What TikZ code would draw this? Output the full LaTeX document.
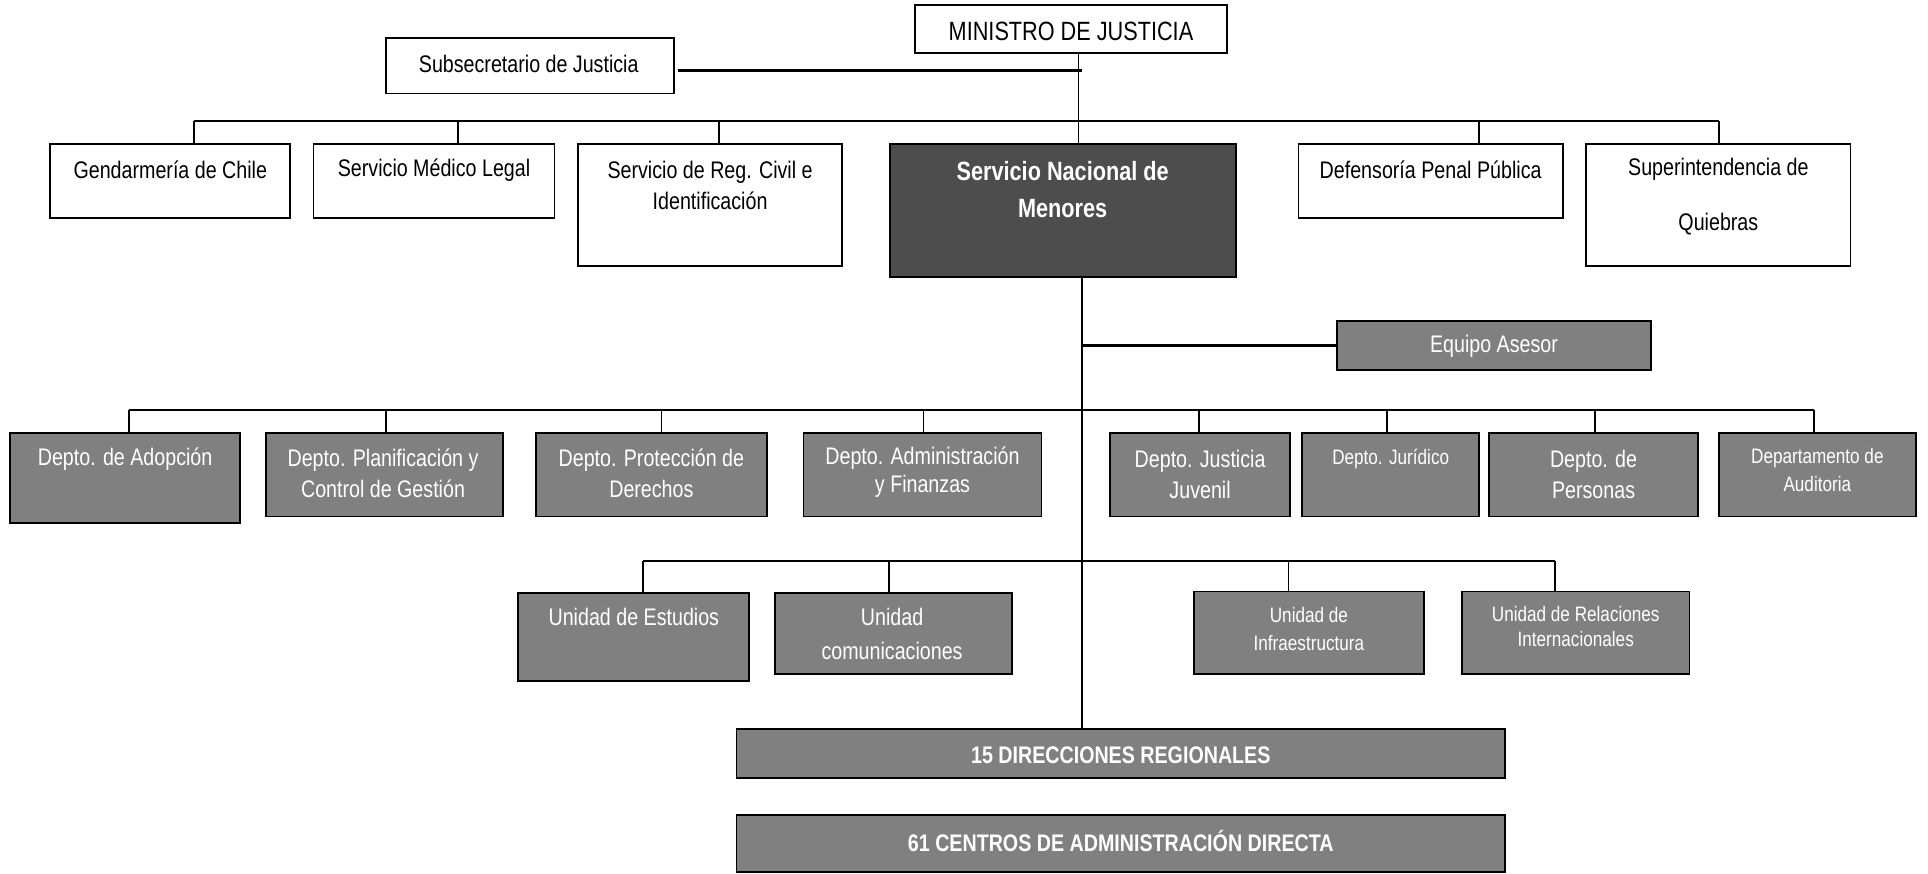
\documentclass[tikz,border=0pt]{standalone}
\usepackage{fontspec}
\setmainfont{Liberation Sans}[FakeStretch=0.82]
\usetikzlibrary{calc}

\definecolor{unitgray}{HTML}{808080}
\definecolor{senamegray}{HTML}{4D4D4D}

\tikzset{
  orgline/.style={line width=1.4pt},
  busline/.style={line width=1.9pt},
  boldline/.style={line width=2.5pt},
  whitebox/.style={draw, line width=1.5pt, fill=white, inner sep=0pt, outer sep=0pt},
  graybox/.style={whitebox, fill=unitgray},
  darkbox/.style={whitebox, fill=senamegray},
  boxtext/.style={inner sep=0pt, align=center, font=\fontsize{19.5}{25}\selectfont},
  whitetext/.style={boxtext, text=white},
  smalltext/.style={whitetext, font=\fontsize{17}{23}\selectfont},
  headtext/.style={whitetext, font=\bfseries\fontsize{19.5}{25}\selectfont},
}

\begin{document}
\begin{tikzpicture}[x=1pt,y=1pt,yscale=-1,xscale=1]
\useasboundingbox (0,0) rectangle (1568,710);

%Shape: Rectangle
\node[whitebox, minimum width=254pt, minimum height=39pt] (ministro) at (871,23.5) {};
\node[boxtext, font=\fontsize{21.5}{26}\selectfont] (ministro-t) at (871,25.5) {MINISTRO DE JUSTICIA};
%Shape: Rectangle
\node[whitebox, minimum width=234pt, minimum height=45pt] (subsec) at (431,53.5) {};
\node[boxtext] (subsec-t) at (430,52) {Subsecretario de Justicia};

%Shape: Rectangle
\node[whitebox, minimum width=195pt, minimum height=60pt] (gendarmeria) at (138.5,147) {};
\node[boxtext] (gendarmeria-t) at (138.5,138) {Gendarmería de Chile};
%Shape: Rectangle
\node[whitebox, minimum width=196pt, minimum height=60pt] (medico) at (353,147) {};
\node[boxtext] (medico-t) at (353,138) {Servicio Médico Legal};
%Shape: Rectangle
\node[whitebox, minimum width=215pt, minimum height=99pt] (regcivil) at (577.5,166.5) {};
\node[boxtext] (regcivil-t) at (577.5,150.5) {Servicio de Reg. Civil e\\Identificación};
%Shape: Rectangle
\node[darkbox, minimum width=281.5pt, minimum height=108pt] (sename) at (864.25,171) {};
\node[whitetext, font=\bfseries\fontsize{21.5}{30}\selectfont] (sename-t) at (864.25,154) {Servicio Nacional de\\Menores};
%Shape: Rectangle
\node[whitebox, minimum width=215pt, minimum height=60pt] (defensoria) at (1163.5,147) {};
\node[boxtext] (defensoria-t) at (1163.5,138) {Defensoría Penal Pública};
%Shape: Rectangle
\node[whitebox, minimum width=215pt, minimum height=99pt] (superint) at (1397.5,166.5) {};
\node[boxtext] (superint-t) at (1397.5,160) {Superintendencia de\\[20pt]Quiebras};

%Shape: Rectangle
\node[graybox, minimum width=256pt, minimum height=40pt] (asesor) at (1215,281) {};
\node[whitetext] (asesor-t) at (1215,282) {Equipo Asesor};

%Shape: Rectangle
\node[graybox, minimum width=187.5pt, minimum height=73pt] (adopcion) at (101.75,388.5) {};
\node[whitetext] (adopcion-t) at (101.75,373.5) {Depto. de Adopción};
%Shape: Rectangle
\node[graybox, minimum width=193pt, minimum height=68pt] (planif) at (312.5,386) {};
\node[whitetext] (planif-t) at (311.5,385) {Depto. Planificación y\\Control de Gestión};
%Shape: Rectangle
\node[graybox, minimum width=187.5pt, minimum height=68pt] (proteccion) at (529.75,386) {};
\node[whitetext] (proteccion-t) at (529.75,385) {Depto. Protección de\\Derechos};
%Shape: Rectangle
\node[graybox, minimum width=193.5pt, minimum height=68pt] (admin) at (750.25,386) {};
\node[whitetext, font=\fontsize{19.5}{23}\selectfont] (admin-t) at (750.25,384) {Depto. Administración\\y Finanzas};
%Shape: Rectangle
\node[graybox, minimum width=146pt, minimum height=68pt] (juvenil) at (976,386) {};
\node[whitetext] (juvenil-t) at (976,386) {Depto. Justicia\\Juvenil};
%Shape: Rectangle
\node[graybox, minimum width=144pt, minimum height=68pt] (juridico) at (1131,386) {};
\node[smalltext] (juridico-t) at (1131,373) {Depto. Jurídico};
%Shape: Rectangle
\node[graybox, minimum width=170pt, minimum height=68pt] (personas) at (1296,386) {};
\node[whitetext] (personas-t) at (1296,386) {Depto. de\\Personas};
%Shape: Rectangle
\node[graybox, minimum width=160pt, minimum height=68pt] (auditoria) at (1478,386) {};
\node[smalltext] (auditoria-t) at (1478,382) {Departamento de\\Auditoria};

%Shape: Rectangle
\node[graybox, minimum width=188pt, minimum height=72pt] (estudios) at (515,518) {};
\node[whitetext] (estudios-t) at (515.5,502) {Unidad de Estudios};
%Shape: Rectangle
\node[graybox, minimum width=193pt, minimum height=66pt] (comunic) at (726.5,515) {};
\node[whitetext, font=\fontsize{19.5}{27}\selectfont] (comunic-t) at (725.5,515.5) {Unidad\\comunicaciones};
%Shape: Rectangle
\node[graybox, minimum width=187pt, minimum height=67pt] (infra) at (1064.5,514.5) {};
\node[smalltext] (infra-t) at (1064.5,511.5) {Unidad de\\Infraestructura};
%Shape: Rectangle
\node[graybox, minimum width=185pt, minimum height=67pt] (relaciones) at (1281.5,514.5) {};
\node[smalltext, font=\fontsize{17}{21}\selectfont] (relaciones-t) at (1281.5,509.5) {Unidad de Relaciones\\Internacionales};

%Shape: Rectangle
\node[graybox, minimum width=625pt, minimum height=40pt] (direcciones) at (911.5,613) {};
\node[headtext] (direcciones-t) at (911.5,614) {15 DIRECCIONES REGIONALES};
%Shape: Rectangle
\node[graybox, minimum width=625pt, minimum height=46pt] (centros) at (911.5,686) {};
\node[headtext] (centros-t) at (911.5,684) {61 CENTROS DE ADMINISTRACIÓN DIRECTA};

% junctions of the lines
\coordinate (subsecjoin) at (880,57.5);
\coordinate (topspine) at (877,98.5);
\coordinate (topbusL) at (158,98.5);
\coordinate (topbusR) at (1398,98.5);
\coordinate (medico-up) at (372.5,98.5);
\coordinate (regcivil-up) at (585,98.5);
\coordinate (defensoria-up) at (1203,98.5);
\coordinate (spine) at (880,333.5);
\coordinate (deptbusL) at (105,333.5);
\coordinate (deptbusR) at (1475,333.5);
\coordinate (planif-up) at (314,333.5);
\coordinate (proteccion-up) at (538,333.5);
\coordinate (admin-up) at (751,333.5);
\coordinate (juvenil-up) at (975,333.5);
\coordinate (juridico-up) at (1128,333.5);
\coordinate (personas-up) at (1297,333.5);
\coordinate (unitbusL) at (523,456);
\coordinate (unitbusR) at (1264.5,456);
\coordinate (comunic-up) at (723,456);
\coordinate (infra-up) at (1048,456);

%Straight Lines
\draw[boldline] ([xshift=3pt]subsec.east |- subsecjoin) -- (subsecjoin);
%Straight Lines
\draw[orgline] (ministro.south -| topspine) -- (sename.north -| topspine);
%Straight Lines
\draw[busline] (topbusL) -- (topbusR);
\draw[orgline] (topbusL) -- (gendarmeria.north -| topbusL);
\draw[orgline] (medico-up) -- (medico.north -| medico-up);
\draw[orgline] (regcivil-up) -- (regcivil.north -| regcivil-up);
\draw[orgline] (defensoria-up) -- (defensoria.north -| defensoria-up);
\draw[orgline] (topbusR) -- (superint.north -| topbusR);

%Straight Lines
\draw[orgline] (sename.south -| spine) -- (direcciones.north -| spine);
\draw[boldline] (asesor.west -| spine) -- (asesor.west);

%Straight Lines
\draw[busline] (deptbusL) -- (deptbusR);
\draw[orgline] (deptbusL) -- (adopcion.north -| deptbusL);
\draw[orgline] (planif-up) -- (planif.north -| planif-up);
\draw[orgline] (proteccion-up) -- (proteccion.north -| proteccion-up);
\draw[orgline] (admin-up) -- (admin.north -| admin-up);
\draw[orgline] (juvenil-up) -- (juvenil.north -| juvenil-up);
\draw[orgline] (juridico-up) -- (juridico.north -| juridico-up);
\draw[orgline] (personas-up) -- (personas.north -| personas-up);
\draw[orgline] (deptbusR) -- (auditoria.north -| deptbusR);

%Straight Lines
\draw[busline] (unitbusL) -- (unitbusR);
\draw[orgline] (unitbusL) -- (estudios.north -| unitbusL);
\draw[orgline] (comunic-up) -- (comunic.north -| comunic-up);
\draw[orgline] (infra-up) -- (infra.north -| infra-up);
\draw[orgline] (unitbusR) -- (relaciones.north -| unitbusR);

\end{tikzpicture}
\end{document}
